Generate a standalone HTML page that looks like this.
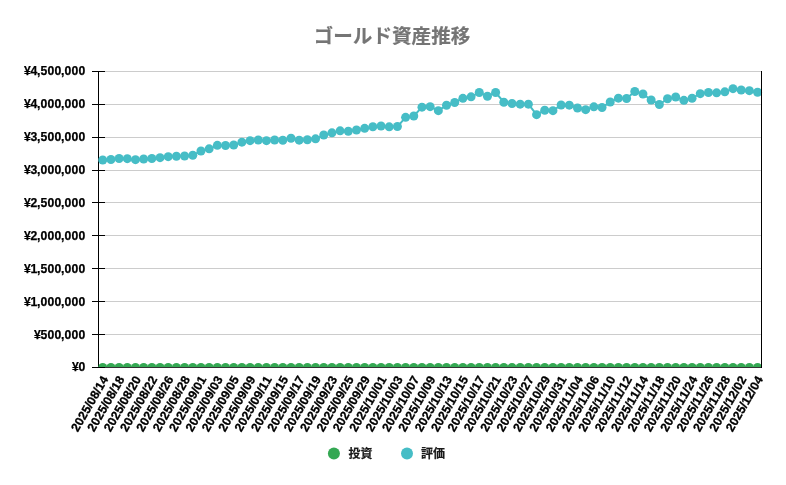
<!DOCTYPE html>
<html lang="ja"><head><meta charset="utf-8"><title>ゴールド資産推移</title>
<style>
html,body{margin:0;padding:0;background:#fff;}
body{width:786px;height:485px;overflow:hidden;font-family:"Liberation Sans",sans-serif;}
svg{display:block;will-change:transform;}
text{font-family:"Liberation Sans",sans-serif;font-weight:bold;fill:#000;stroke:#000;stroke-linejoin:round;}
.yl text{stroke-width:0.25px;}
.xl text{stroke-width:0.3px;}
.cjk text{font-family:"Liberation Sans","Noto Sans CJK JP",sans-serif;stroke-width:0.2px;stroke-linejoin:round;}
</style></head><body>
<svg width="786" height="485" viewBox="0 0 786 485">
<rect width="786" height="485" fill="#fff"/>
<defs><clipPath id="plot"><rect x="96.5" y="61.5" width="667.0" height="305.5"/></clipPath></defs>
<g class="cjk">
<text x="392" y="43" font-size="19.6" text-anchor="middle" style="fill:#757575;stroke:#757575;">ゴールド資産推移</text>
</g>
<g stroke="#cccccc" stroke-width="1" shape-rendering="crispEdges">
<line x1="98.5" x2="761.5" y1="71.5" y2="71.5"/>
<line x1="98.5" x2="761.5" y1="104.5" y2="104.5"/>
<line x1="98.5" x2="761.5" y1="137.5" y2="137.5"/>
<line x1="98.5" x2="761.5" y1="170.5" y2="170.5"/>
<line x1="98.5" x2="761.5" y1="202.5" y2="202.5"/>
<line x1="98.5" x2="761.5" y1="235.5" y2="235.5"/>
<line x1="98.5" x2="761.5" y1="268.5" y2="268.5"/>
<line x1="98.5" x2="761.5" y1="301.5" y2="301.5"/>
<line x1="98.5" x2="761.5" y1="334.5" y2="334.5"/>
</g>
<g stroke="#000" stroke-width="1" shape-rendering="crispEdges">
<line x1="98.5" x2="762.0" y1="367.5" y2="367.5" stroke="#333"/>
<line x1="98.5" x2="98.5" y1="71.0" y2="368.0"/>
<line x1="92.0" x2="105.0" y1="367.5" y2="367.5"/>
<line x1="92.0" x2="105.0" y1="71.5" y2="71.5"/>
<line x1="92.0" x2="105.0" y1="104.5" y2="104.5"/>
<line x1="92.0" x2="105.0" y1="137.5" y2="137.5"/>
<line x1="92.0" x2="105.0" y1="170.5" y2="170.5"/>
<line x1="92.0" x2="105.0" y1="202.5" y2="202.5"/>
<line x1="92.0" x2="105.0" y1="235.5" y2="235.5"/>
<line x1="92.0" x2="105.0" y1="268.5" y2="268.5"/>
<line x1="92.0" x2="105.0" y1="301.5" y2="301.5"/>
<line x1="92.0" x2="105.0" y1="334.5" y2="334.5"/>
</g>
<g clip-path="url(#plot)">
<g fill="#34a853">
<rect x="102.5" y="366.5" width="655.0" height="1"/>
<circle cx="102.74" cy="367.5" r="4.5"/>
<circle cx="110.93" cy="367.5" r="4.5"/>
<circle cx="119.11" cy="367.5" r="4.5"/>
<circle cx="127.30" cy="367.5" r="4.5"/>
<circle cx="135.48" cy="367.5" r="4.5"/>
<circle cx="143.67" cy="367.5" r="4.5"/>
<circle cx="151.85" cy="367.5" r="4.5"/>
<circle cx="160.04" cy="367.5" r="4.5"/>
<circle cx="168.22" cy="367.5" r="4.5"/>
<circle cx="176.41" cy="367.5" r="4.5"/>
<circle cx="184.59" cy="367.5" r="4.5"/>
<circle cx="192.78" cy="367.5" r="4.5"/>
<circle cx="200.96" cy="367.5" r="4.5"/>
<circle cx="209.15" cy="367.5" r="4.5"/>
<circle cx="217.34" cy="367.5" r="4.5"/>
<circle cx="225.52" cy="367.5" r="4.5"/>
<circle cx="233.71" cy="367.5" r="4.5"/>
<circle cx="241.89" cy="367.5" r="4.5"/>
<circle cx="250.08" cy="367.5" r="4.5"/>
<circle cx="258.26" cy="367.5" r="4.5"/>
<circle cx="266.45" cy="367.5" r="4.5"/>
<circle cx="274.63" cy="367.5" r="4.5"/>
<circle cx="282.82" cy="367.5" r="4.5"/>
<circle cx="291.00" cy="367.5" r="4.5"/>
<circle cx="299.19" cy="367.5" r="4.5"/>
<circle cx="307.37" cy="367.5" r="4.5"/>
<circle cx="315.56" cy="367.5" r="4.5"/>
<circle cx="323.74" cy="367.5" r="4.5"/>
<circle cx="331.93" cy="367.5" r="4.5"/>
<circle cx="340.11" cy="367.5" r="4.5"/>
<circle cx="348.30" cy="367.5" r="4.5"/>
<circle cx="356.48" cy="367.5" r="4.5"/>
<circle cx="364.67" cy="367.5" r="4.5"/>
<circle cx="372.85" cy="367.5" r="4.5"/>
<circle cx="381.04" cy="367.5" r="4.5"/>
<circle cx="389.22" cy="367.5" r="4.5"/>
<circle cx="397.41" cy="367.5" r="4.5"/>
<circle cx="405.59" cy="367.5" r="4.5"/>
<circle cx="413.78" cy="367.5" r="4.5"/>
<circle cx="421.96" cy="367.5" r="4.5"/>
<circle cx="430.15" cy="367.5" r="4.5"/>
<circle cx="438.34" cy="367.5" r="4.5"/>
<circle cx="446.52" cy="367.5" r="4.5"/>
<circle cx="454.71" cy="367.5" r="4.5"/>
<circle cx="462.89" cy="367.5" r="4.5"/>
<circle cx="471.08" cy="367.5" r="4.5"/>
<circle cx="479.26" cy="367.5" r="4.5"/>
<circle cx="487.45" cy="367.5" r="4.5"/>
<circle cx="495.63" cy="367.5" r="4.5"/>
<circle cx="503.82" cy="367.5" r="4.5"/>
<circle cx="512.00" cy="367.5" r="4.5"/>
<circle cx="520.19" cy="367.5" r="4.5"/>
<circle cx="528.37" cy="367.5" r="4.5"/>
<circle cx="536.56" cy="367.5" r="4.5"/>
<circle cx="544.74" cy="367.5" r="4.5"/>
<circle cx="552.93" cy="367.5" r="4.5"/>
<circle cx="561.11" cy="367.5" r="4.5"/>
<circle cx="569.30" cy="367.5" r="4.5"/>
<circle cx="577.48" cy="367.5" r="4.5"/>
<circle cx="585.67" cy="367.5" r="4.5"/>
<circle cx="593.85" cy="367.5" r="4.5"/>
<circle cx="602.04" cy="367.5" r="4.5"/>
<circle cx="610.22" cy="367.5" r="4.5"/>
<circle cx="618.41" cy="367.5" r="4.5"/>
<circle cx="626.59" cy="367.5" r="4.5"/>
<circle cx="634.78" cy="367.5" r="4.5"/>
<circle cx="642.96" cy="367.5" r="4.5"/>
<circle cx="651.15" cy="367.5" r="4.5"/>
<circle cx="659.34" cy="367.5" r="4.5"/>
<circle cx="667.52" cy="367.5" r="4.5"/>
<circle cx="675.71" cy="367.5" r="4.5"/>
<circle cx="683.89" cy="367.5" r="4.5"/>
<circle cx="692.08" cy="367.5" r="4.5"/>
<circle cx="700.26" cy="367.5" r="4.5"/>
<circle cx="708.45" cy="367.5" r="4.5"/>
<circle cx="716.63" cy="367.5" r="4.5"/>
<circle cx="724.82" cy="367.5" r="4.5"/>
<circle cx="733.00" cy="367.5" r="4.5"/>
<circle cx="741.19" cy="367.5" r="4.5"/>
<circle cx="749.37" cy="367.5" r="4.5"/>
<circle cx="757.56" cy="367.5" r="4.5"/>
</g>
<polyline fill="none" stroke="#46bdc6" stroke-width="2" stroke-linejoin="round" points="102.74,160.05 110.93,159.45 119.11,158.55 127.30,158.65 135.48,159.65 143.67,159.05 151.85,158.55 160.04,157.65 168.22,156.65 176.41,156.25 184.59,155.95 192.78,155.25 200.96,151.05 209.15,148.85 217.34,145.35 225.52,145.45 233.71,145.05 241.89,142.15 250.08,140.65 258.26,140.05 266.45,140.65 274.63,139.95 282.82,140.25 291.00,138.25 299.19,140.15 307.37,139.75 315.56,138.85 323.74,135.05 331.93,132.85 340.11,130.85 348.30,131.25 356.48,129.95 364.67,128.35 372.85,126.75 381.04,126.05 389.22,126.85 397.41,126.55 405.59,117.35 413.78,116.05 421.96,107.15 430.15,106.65 438.34,110.65 446.52,105.25 454.71,102.45 462.89,98.35 471.08,96.85 479.26,92.45 487.45,96.25 495.63,92.45 503.82,102.25 512.00,103.45 520.19,104.15 528.37,104.15 536.56,114.65 544.74,110.25 552.93,110.65 561.11,104.95 569.30,105.15 577.48,108.05 585.67,109.65 593.85,106.85 602.04,107.55 610.22,101.95 618.41,98.15 626.59,98.45 634.78,91.45 642.96,93.95 651.15,99.95 659.34,104.55 667.52,98.75 675.71,96.95 683.89,100.35 692.08,98.25 700.26,93.65 708.45,92.55 716.63,92.85 724.82,91.85 733.00,88.65 741.19,89.95 749.37,90.65 757.56,92.25"/>
<g fill="#46bdc6">
<circle cx="102.74" cy="160.05" r="4.5"/>
<circle cx="110.93" cy="159.45" r="4.5"/>
<circle cx="119.11" cy="158.55" r="4.5"/>
<circle cx="127.30" cy="158.65" r="4.5"/>
<circle cx="135.48" cy="159.65" r="4.5"/>
<circle cx="143.67" cy="159.05" r="4.5"/>
<circle cx="151.85" cy="158.55" r="4.5"/>
<circle cx="160.04" cy="157.65" r="4.5"/>
<circle cx="168.22" cy="156.65" r="4.5"/>
<circle cx="176.41" cy="156.25" r="4.5"/>
<circle cx="184.59" cy="155.95" r="4.5"/>
<circle cx="192.78" cy="155.25" r="4.5"/>
<circle cx="200.96" cy="151.05" r="4.5"/>
<circle cx="209.15" cy="148.85" r="4.5"/>
<circle cx="217.34" cy="145.35" r="4.5"/>
<circle cx="225.52" cy="145.45" r="4.5"/>
<circle cx="233.71" cy="145.05" r="4.5"/>
<circle cx="241.89" cy="142.15" r="4.5"/>
<circle cx="250.08" cy="140.65" r="4.5"/>
<circle cx="258.26" cy="140.05" r="4.5"/>
<circle cx="266.45" cy="140.65" r="4.5"/>
<circle cx="274.63" cy="139.95" r="4.5"/>
<circle cx="282.82" cy="140.25" r="4.5"/>
<circle cx="291.00" cy="138.25" r="4.5"/>
<circle cx="299.19" cy="140.15" r="4.5"/>
<circle cx="307.37" cy="139.75" r="4.5"/>
<circle cx="315.56" cy="138.85" r="4.5"/>
<circle cx="323.74" cy="135.05" r="4.5"/>
<circle cx="331.93" cy="132.85" r="4.5"/>
<circle cx="340.11" cy="130.85" r="4.5"/>
<circle cx="348.30" cy="131.25" r="4.5"/>
<circle cx="356.48" cy="129.95" r="4.5"/>
<circle cx="364.67" cy="128.35" r="4.5"/>
<circle cx="372.85" cy="126.75" r="4.5"/>
<circle cx="381.04" cy="126.05" r="4.5"/>
<circle cx="389.22" cy="126.85" r="4.5"/>
<circle cx="397.41" cy="126.55" r="4.5"/>
<circle cx="405.59" cy="117.35" r="4.5"/>
<circle cx="413.78" cy="116.05" r="4.5"/>
<circle cx="421.96" cy="107.15" r="4.5"/>
<circle cx="430.15" cy="106.65" r="4.5"/>
<circle cx="438.34" cy="110.65" r="4.5"/>
<circle cx="446.52" cy="105.25" r="4.5"/>
<circle cx="454.71" cy="102.45" r="4.5"/>
<circle cx="462.89" cy="98.35" r="4.5"/>
<circle cx="471.08" cy="96.85" r="4.5"/>
<circle cx="479.26" cy="92.45" r="4.5"/>
<circle cx="487.45" cy="96.25" r="4.5"/>
<circle cx="495.63" cy="92.45" r="4.5"/>
<circle cx="503.82" cy="102.25" r="4.5"/>
<circle cx="512.00" cy="103.45" r="4.5"/>
<circle cx="520.19" cy="104.15" r="4.5"/>
<circle cx="528.37" cy="104.15" r="4.5"/>
<circle cx="536.56" cy="114.65" r="4.5"/>
<circle cx="544.74" cy="110.25" r="4.5"/>
<circle cx="552.93" cy="110.65" r="4.5"/>
<circle cx="561.11" cy="104.95" r="4.5"/>
<circle cx="569.30" cy="105.15" r="4.5"/>
<circle cx="577.48" cy="108.05" r="4.5"/>
<circle cx="585.67" cy="109.65" r="4.5"/>
<circle cx="593.85" cy="106.85" r="4.5"/>
<circle cx="602.04" cy="107.55" r="4.5"/>
<circle cx="610.22" cy="101.95" r="4.5"/>
<circle cx="618.41" cy="98.15" r="4.5"/>
<circle cx="626.59" cy="98.45" r="4.5"/>
<circle cx="634.78" cy="91.45" r="4.5"/>
<circle cx="642.96" cy="93.95" r="4.5"/>
<circle cx="651.15" cy="99.95" r="4.5"/>
<circle cx="659.34" cy="104.55" r="4.5"/>
<circle cx="667.52" cy="98.75" r="4.5"/>
<circle cx="675.71" cy="96.95" r="4.5"/>
<circle cx="683.89" cy="100.35" r="4.5"/>
<circle cx="692.08" cy="98.25" r="4.5"/>
<circle cx="700.26" cy="93.65" r="4.5"/>
<circle cx="708.45" cy="92.55" r="4.5"/>
<circle cx="716.63" cy="92.85" r="4.5"/>
<circle cx="724.82" cy="91.85" r="4.5"/>
<circle cx="733.00" cy="88.65" r="4.5"/>
<circle cx="741.19" cy="89.95" r="4.5"/>
<circle cx="749.37" cy="90.65" r="4.5"/>
<circle cx="757.56" cy="92.25" r="4.5"/>
</g></g>
<line x1="761.5" x2="761.5" y1="71.0" y2="368.0" stroke="#000" stroke-width="1" shape-rendering="crispEdges"/>
<g class="yl" font-size="12.2">
<g><text y="75" x="24.00 30.41 37.10 40.41 47.41 54.41 61.10 64.41 71.41 78.41">¥4,500,000</text></g>
<g><text y="108" x="24.00 30.41 37.10 40.41 47.41 54.41 61.10 64.41 71.41 78.41">¥4,000,000</text></g>
<g><text y="141" x="24.00 30.41 37.10 40.41 47.41 54.41 61.10 64.41 71.41 78.41">¥3,500,000</text></g>
<g><text y="174" x="24.00 30.41 37.10 40.41 47.41 54.41 61.10 64.41 71.41 78.41">¥3,000,000</text></g>
<g><text y="207" x="24.00 30.41 37.10 40.41 47.41 54.41 61.10 64.41 71.41 78.41">¥2,500,000</text></g>
<g><text y="240" x="24.00 30.41 37.10 40.41 47.41 54.41 61.10 64.41 71.41 78.41">¥2,000,000</text></g>
<g><text y="273" x="24.00 30.41 37.10 40.41 47.41 54.41 61.10 64.41 71.41 78.41">¥1,500,000</text></g>
<g><text y="306" x="24.00 30.41 37.10 40.41 47.41 54.41 61.10 64.41 71.41 78.41">¥1,000,000</text></g>
<g><text y="339" x="34.00 40.41 47.41 54.41 61.10 64.41 71.41 78.41">¥500,000</text></g>
<g><text y="371" x="72.00 78.41">¥0</text></g>
</g>
<g class="xl" font-size="12.3">
<text transform="translate(108.59 379.00) rotate(-60)" x="-61.92 -54.92 -47.92 -40.92 -34.21 -30.92 -23.92 -17.21 -13.92 -6.92" y="0">2025/08/14</text>
<text transform="translate(124.96 379.00) rotate(-60)" x="-61.92 -54.92 -47.92 -40.92 -34.21 -30.92 -23.92 -17.21 -13.92 -6.92" y="0">2025/08/18</text>
<text transform="translate(141.33 379.00) rotate(-60)" x="-61.92 -54.92 -47.92 -40.92 -34.21 -30.92 -23.92 -17.21 -13.92 -6.92" y="0">2025/08/20</text>
<text transform="translate(157.70 379.00) rotate(-60)" x="-61.92 -54.92 -47.92 -40.92 -34.21 -30.92 -23.92 -17.21 -13.92 -6.92" y="0">2025/08/22</text>
<text transform="translate(174.07 379.00) rotate(-60)" x="-61.92 -54.92 -47.92 -40.92 -34.21 -30.92 -23.92 -17.21 -13.92 -6.92" y="0">2025/08/26</text>
<text transform="translate(190.44 379.00) rotate(-60)" x="-61.92 -54.92 -47.92 -40.92 -34.21 -30.92 -23.92 -17.21 -13.92 -6.92" y="0">2025/08/28</text>
<text transform="translate(206.81 379.00) rotate(-60)" x="-61.92 -54.92 -47.92 -40.92 -34.21 -30.92 -23.92 -17.21 -13.92 -6.92" y="0">2025/09/01</text>
<text transform="translate(223.19 379.00) rotate(-60)" x="-61.92 -54.92 -47.92 -40.92 -34.21 -30.92 -23.92 -17.21 -13.92 -6.92" y="0">2025/09/03</text>
<text transform="translate(239.56 379.00) rotate(-60)" x="-61.92 -54.92 -47.92 -40.92 -34.21 -30.92 -23.92 -17.21 -13.92 -6.92" y="0">2025/09/05</text>
<text transform="translate(255.93 379.00) rotate(-60)" x="-61.92 -54.92 -47.92 -40.92 -34.21 -30.92 -23.92 -17.21 -13.92 -6.92" y="0">2025/09/09</text>
<text transform="translate(272.30 379.00) rotate(-60)" x="-61.92 -54.92 -47.92 -40.92 -34.21 -30.92 -23.92 -17.21 -13.92 -6.92" y="0">2025/09/11</text>
<text transform="translate(288.67 379.00) rotate(-60)" x="-61.92 -54.92 -47.92 -40.92 -34.21 -30.92 -23.92 -17.21 -13.92 -6.92" y="0">2025/09/15</text>
<text transform="translate(305.04 379.00) rotate(-60)" x="-61.92 -54.92 -47.92 -40.92 -34.21 -30.92 -23.92 -17.21 -13.92 -6.92" y="0">2025/09/17</text>
<text transform="translate(321.41 379.00) rotate(-60)" x="-61.92 -54.92 -47.92 -40.92 -34.21 -30.92 -23.92 -17.21 -13.92 -6.92" y="0">2025/09/19</text>
<text transform="translate(337.78 379.00) rotate(-60)" x="-61.92 -54.92 -47.92 -40.92 -34.21 -30.92 -23.92 -17.21 -13.92 -6.92" y="0">2025/09/23</text>
<text transform="translate(354.15 379.00) rotate(-60)" x="-61.92 -54.92 -47.92 -40.92 -34.21 -30.92 -23.92 -17.21 -13.92 -6.92" y="0">2025/09/25</text>
<text transform="translate(370.52 379.00) rotate(-60)" x="-61.92 -54.92 -47.92 -40.92 -34.21 -30.92 -23.92 -17.21 -13.92 -6.92" y="0">2025/09/29</text>
<text transform="translate(386.89 379.00) rotate(-60)" x="-61.92 -54.92 -47.92 -40.92 -34.21 -30.92 -23.92 -17.21 -13.92 -6.92" y="0">2025/10/01</text>
<text transform="translate(403.26 379.00) rotate(-60)" x="-61.92 -54.92 -47.92 -40.92 -34.21 -30.92 -23.92 -17.21 -13.92 -6.92" y="0">2025/10/03</text>
<text transform="translate(419.63 379.00) rotate(-60)" x="-61.92 -54.92 -47.92 -40.92 -34.21 -30.92 -23.92 -17.21 -13.92 -6.92" y="0">2025/10/07</text>
<text transform="translate(436.00 379.00) rotate(-60)" x="-61.92 -54.92 -47.92 -40.92 -34.21 -30.92 -23.92 -17.21 -13.92 -6.92" y="0">2025/10/09</text>
<text transform="translate(452.37 379.00) rotate(-60)" x="-61.92 -54.92 -47.92 -40.92 -34.21 -30.92 -23.92 -17.21 -13.92 -6.92" y="0">2025/10/13</text>
<text transform="translate(468.74 379.00) rotate(-60)" x="-61.92 -54.92 -47.92 -40.92 -34.21 -30.92 -23.92 -17.21 -13.92 -6.92" y="0">2025/10/15</text>
<text transform="translate(485.11 379.00) rotate(-60)" x="-61.92 -54.92 -47.92 -40.92 -34.21 -30.92 -23.92 -17.21 -13.92 -6.92" y="0">2025/10/17</text>
<text transform="translate(501.48 379.00) rotate(-60)" x="-61.92 -54.92 -47.92 -40.92 -34.21 -30.92 -23.92 -17.21 -13.92 -6.92" y="0">2025/10/21</text>
<text transform="translate(517.85 379.00) rotate(-60)" x="-61.92 -54.92 -47.92 -40.92 -34.21 -30.92 -23.92 -17.21 -13.92 -6.92" y="0">2025/10/23</text>
<text transform="translate(534.22 379.00) rotate(-60)" x="-61.92 -54.92 -47.92 -40.92 -34.21 -30.92 -23.92 -17.21 -13.92 -6.92" y="0">2025/10/27</text>
<text transform="translate(550.59 379.00) rotate(-60)" x="-61.92 -54.92 -47.92 -40.92 -34.21 -30.92 -23.92 -17.21 -13.92 -6.92" y="0">2025/10/29</text>
<text transform="translate(566.96 379.00) rotate(-60)" x="-61.92 -54.92 -47.92 -40.92 -34.21 -30.92 -23.92 -17.21 -13.92 -6.92" y="0">2025/10/31</text>
<text transform="translate(583.33 379.00) rotate(-60)" x="-61.92 -54.92 -47.92 -40.92 -34.21 -30.92 -23.92 -17.21 -13.92 -6.92" y="0">2025/11/04</text>
<text transform="translate(599.70 379.00) rotate(-60)" x="-61.92 -54.92 -47.92 -40.92 -34.21 -30.92 -23.92 -17.21 -13.92 -6.92" y="0">2025/11/06</text>
<text transform="translate(616.07 379.00) rotate(-60)" x="-61.92 -54.92 -47.92 -40.92 -34.21 -30.92 -23.92 -17.21 -13.92 -6.92" y="0">2025/11/10</text>
<text transform="translate(632.44 379.00) rotate(-60)" x="-61.92 -54.92 -47.92 -40.92 -34.21 -30.92 -23.92 -17.21 -13.92 -6.92" y="0">2025/11/12</text>
<text transform="translate(648.81 379.00) rotate(-60)" x="-61.92 -54.92 -47.92 -40.92 -34.21 -30.92 -23.92 -17.21 -13.92 -6.92" y="0">2025/11/14</text>
<text transform="translate(665.19 379.00) rotate(-60)" x="-61.92 -54.92 -47.92 -40.92 -34.21 -30.92 -23.92 -17.21 -13.92 -6.92" y="0">2025/11/18</text>
<text transform="translate(681.56 379.00) rotate(-60)" x="-61.92 -54.92 -47.92 -40.92 -34.21 -30.92 -23.92 -17.21 -13.92 -6.92" y="0">2025/11/20</text>
<text transform="translate(697.93 379.00) rotate(-60)" x="-61.92 -54.92 -47.92 -40.92 -34.21 -30.92 -23.92 -17.21 -13.92 -6.92" y="0">2025/11/24</text>
<text transform="translate(714.30 379.00) rotate(-60)" x="-61.92 -54.92 -47.92 -40.92 -34.21 -30.92 -23.92 -17.21 -13.92 -6.92" y="0">2025/11/26</text>
<text transform="translate(730.67 379.00) rotate(-60)" x="-61.92 -54.92 -47.92 -40.92 -34.21 -30.92 -23.92 -17.21 -13.92 -6.92" y="0">2025/11/28</text>
<text transform="translate(747.04 379.00) rotate(-60)" x="-61.92 -54.92 -47.92 -40.92 -34.21 -30.92 -23.92 -17.21 -13.92 -6.92" y="0">2025/12/02</text>
<text transform="translate(763.41 379.00) rotate(-60)" x="-61.92 -54.92 -47.92 -40.92 -34.21 -30.92 -23.92 -17.21 -13.92 -6.92" y="0">2025/12/04</text>
</g>
<circle cx="333.9" cy="453.6" r="6" fill="#34a853"/>
<g class="cjk">
<text x="348.5" y="458" font-size="12" style="fill:#1a1a1a;stroke:#1a1a1a;">投資</text>
</g>
<circle cx="407.0" cy="453.6" r="6" fill="#46bdc6"/>
<g class="cjk">
<text x="421.1" y="458" font-size="12" style="fill:#1a1a1a;stroke:#1a1a1a;">評価</text>
</g>
</svg></body></html>
